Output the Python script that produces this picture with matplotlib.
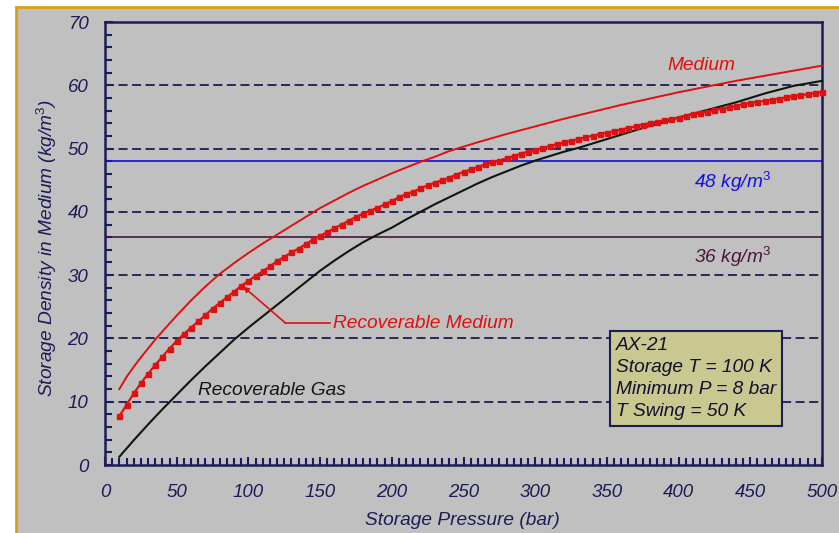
import matplotlib
matplotlib.use('Agg')
import matplotlib.pyplot as plt
from matplotlib.patches import Rectangle
from matplotlib.ticker import MultipleLocator

plt.rcParams['font.family'] = ['Liberation Sans', 'DejaVu Sans']
plt.rcParams['mathtext.fontset'] = 'custom'
plt.rcParams['mathtext.rm'] = 'Liberation Sans'
plt.rcParams['mathtext.it'] = 'Liberation Sans:italic'

# Medium (solid red)
medium_p = [10, 15, 20, 25, 30, 35, 40, 50, 60, 70, 80, 90, 100, 110, 120,
            130, 140, 150, 160, 170, 180, 190, 200, 210, 220, 230, 240, 260,
            280, 300, 320, 340, 360, 380, 400, 420, 440, 460, 480, 500]
medium_d = [12.0, 13.9, 15.5, 17.0, 18.4, 19.8, 21.1, 23.6, 26.0, 28.2, 30.2,
            31.9, 33.5, 35.0, 36.4, 37.8, 39.2, 40.6, 41.8, 43.0, 44.1, 45.1,
            46.1, 47.0, 47.9, 48.7, 49.6, 51.0, 52.3, 53.5, 54.7, 55.8, 56.9,
            57.9, 58.9, 59.8, 60.7, 61.5, 62.3, 63.1]

# Recoverable Medium (red with square markers, every 5 bar)
rec_med_p = list(range(10, 505, 5))
rec_med_d = [7.7, 9.5, 11.3, 12.9, 14.4, 15.8, 17.1, 18.4, 19.6, 20.7,
             21.7, 22.7, 23.7, 24.7, 25.6, 26.5, 27.4, 28.3, 29.1, 29.9,
             30.6, 31.4, 32.2, 32.9, 33.6, 34.2, 34.9, 35.6, 36.2, 36.8,
             37.4, 38.0, 38.6, 39.2, 39.7, 40.2, 40.6, 41.2, 41.7, 42.3,
             42.8, 43.2, 43.7, 44.2, 44.6, 45.0, 45.4, 45.9, 46.3, 46.7,
             47.1, 47.5, 47.8, 48.1, 48.5, 48.8, 49.2, 49.5, 49.8, 50.1,
             50.4, 50.7, 51.0, 51.2, 51.5, 51.8, 52.0, 52.3, 52.5, 52.8,
             53.0, 53.3, 53.5, 53.8, 54.0, 54.2, 54.5, 54.7, 54.9, 55.2,
             55.4, 55.6, 55.8, 56.1, 56.3, 56.5, 56.8, 57.0, 57.2, 57.4,
             57.5, 57.7, 57.9, 58.1, 58.3, 58.4, 58.6, 58.8, 59.0]

# Recoverable Gas (black)
gas_p = [10, 20, 30, 40, 50, 60, 70, 80, 90, 100, 110, 120, 130, 140, 150,
         160, 170, 180, 190, 200, 210, 220, 230, 240, 250, 260, 270, 280, 290,
         300, 310, 320, 330, 340, 350, 360, 370, 380, 390, 400, 410, 420, 430,
         440, 450, 460, 470, 480, 490, 500]
gas_d = [1.3, 3.9, 6.4, 8.8, 11.1, 13.4, 15.6, 17.7, 19.8, 21.7, 23.5, 25.3,
         27.1, 28.9, 30.7, 32.3, 33.8, 35.2, 36.4, 37.5, 38.8, 40.0, 41.2,
         42.3, 43.4, 44.5, 45.5, 46.4, 47.3, 48.1, 48.8, 49.5, 50.1, 50.8,
         51.5, 52.2, 52.9, 53.6, 54.2, 54.9, 55.5, 56.1, 56.7, 57.3, 58.0,
         58.7, 59.3, 59.9, 60.3, 60.7]

target_levels = [48, 36]
target_labels = ['48 kg/m$^{3}$', '36 kg/m$^{3}$']
target_colors = ['#1010e0', '#4a1442']

box_lines = ['AX-21', 'Storage T = 100 K', 'Minimum P = 8 bar', 'T Swing = 50 K']

navy = '#1c1c58'
red = '#e01010'
fs = 13.8

fig = plt.figure(figsize=(8.39, 5.33), dpi=100, facecolor='white')
frame = Rectangle((16 / 839, -0.05), 1.2, (533 - 7) / 533 + 0.05,
                  transform=fig.transFigure, facecolor='#c0c0c0',
                  edgecolor='#d6a010', linewidth=2, zorder=-10)
fig.add_artist(frame)
ax = fig.add_axes([105 / 839, (533 - 465) / 533, 717 / 839, 443 / 533])
ax.set_facecolor('#c0c0c0')

ax.set_xlim(0, 500)
ax.set_ylim(0, 70)

for y in range(10, 70, 10):
    ax.axhline(y, color=navy, lw=1.3, ls=(0, (5, 2.5)), zorder=1)

for lvl, lab, col in zip(target_levels, target_labels, target_colors):
    ax.axhline(lvl, color=col, lw=1.2, zorder=2)
    ax.text(411, lvl - 1.3, lab, color=col, fontsize=fs, style='italic',
            ha='left', va='top', zorder=5)

ax.plot(gas_p, gas_d, color='#0c180c', lw=1.5, zorder=3, clip_on=False)
ax.plot(medium_p, medium_d, color=red, lw=1.4, zorder=3, clip_on=False)
ax.plot(rec_med_p, rec_med_d, color=red, lw=1.6, marker='s', markersize=3.6,
        zorder=4, clip_on=False)

ax.text(416, 63.2, 'Medium', color=red, fontsize=fs, style='italic',
        ha='center', va='center')
ax.text(159, 22.3, 'Recoverable Medium', color=red, fontsize=fs,
        style='italic', ha='left', va='center')
ax.plot([125.5, 157], [22.5, 22.5], color=red, lw=1.2)
ax.annotate('', xy=(96.4, 28.2), xytext=(125.5, 22.5),
            arrowprops=dict(arrowstyle='-|>', color=red, lw=1.2,
                            mutation_scale=8, shrinkA=0, shrinkB=0))
ax.text(65, 11.8, 'Recoverable Gas', color='#101810', fontsize=fs,
        style='italic', ha='left', va='center')

ax.text(356, 20.2, '\n'.join(box_lines), fontsize=fs, style='italic',
        color='#101030', ha='left', va='top', linespacing=1.38,
        bbox=dict(boxstyle='square,pad=0.3', facecolor='#c8c890',
                  edgecolor=navy, linewidth=1.5), zorder=6)

ax.xaxis.set_major_locator(MultipleLocator(50))
ax.xaxis.set_minor_locator(MultipleLocator(5))
ax.yaxis.set_major_locator(MultipleLocator(10))
ax.yaxis.set_minor_locator(MultipleLocator(2))
ax.tick_params(axis='both', which='both', direction='in', color=navy,
               width=1.5, labelcolor=navy, labelsize=13.5)
ax.tick_params(axis='both', which='major', length=6)
ax.tick_params(axis='both', which='minor', length=5)
ax.tick_params(axis='x', pad=14)
ax.tick_params(axis='y', pad=12)
for lbl in ax.get_xticklabels() + ax.get_yticklabels():
    lbl.set_style('italic')

for s in ax.spines.values():
    s.set_color(navy)
    s.set_linewidth(1.8)

ax.set_xlabel('Storage Pressure (bar)', color=navy, fontsize=fs,
              style='italic', va='center')
ax.xaxis.set_label_coords(0.4986, -0.126)
ax.set_ylabel('Storage Density in Medium (kg/m$^{3}$)', color=navy,
              fontsize=fs, style='italic', va='center')
ax.yaxis.set_label_coords(-0.081, 0.491)

plt.savefig('out.png', dpi=100, facecolor=fig.get_facecolor())
